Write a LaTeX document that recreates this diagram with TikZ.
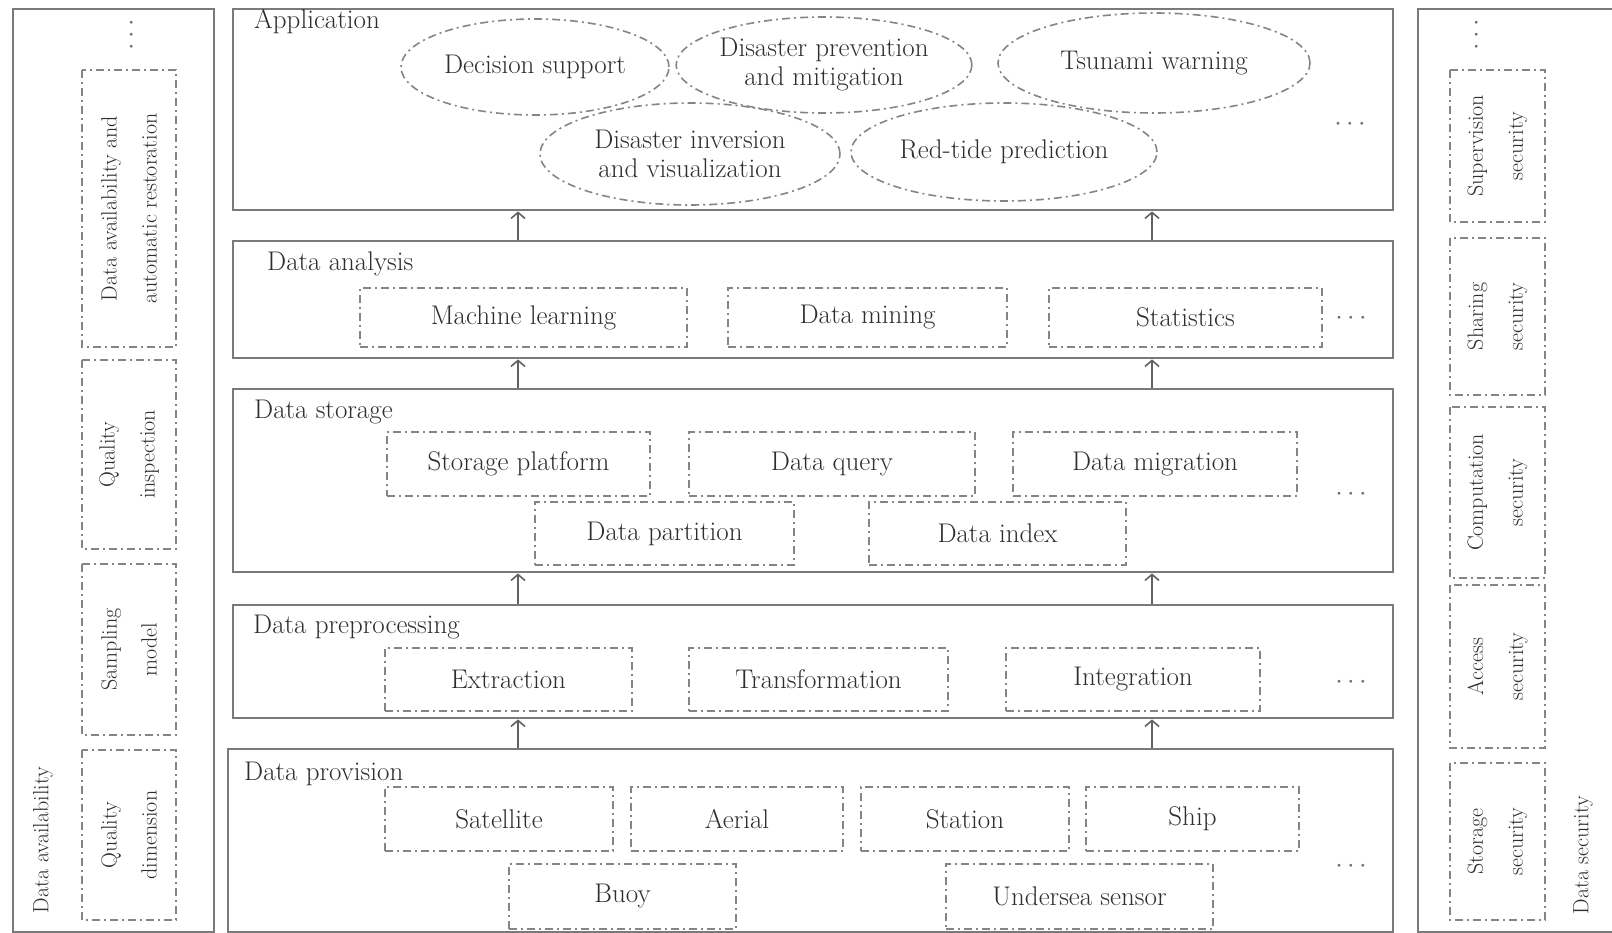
\RequirePackage{fix-cm}
\documentclass[tikz,border=0pt]{standalone}
\usepackage{fontspec}
\usetikzlibrary{shapes.geometric,arrows.meta}
\definecolor{txt}{HTML}{2E2E2E}
\definecolor{ln}{HTML}{7A7A7A}
\definecolor{dl}{HTML}{858585}
\newcommand\mainfs{\fontsize{27}{29}\selectfont}
\newcommand\rotfs{\fontsize{22}{40}\selectfont}
\begin{document}
\begin{tikzpicture}[x=1pt,y=-1pt,
  layer/.style={draw=ln, line width=2.4pt, rectangle, inner sep=0pt, anchor=north west},
  dd/.style={draw=dl, line width=1.6pt, dash pattern=on 8pt off 4pt on 2pt off 4pt},
  sub/.style={dd, rectangle, inner sep=0pt, font=\mainfs, text=txt},
  ell/.style={dd, ellipse, inner sep=0pt, font=\mainfs, text=txt, align=center},
  rsub/.style={dd, rectangle, inner sep=0pt, font=\rotfs, text=txt, align=center, rotate=90},
  lbl/.style={anchor=west, inner sep=0pt, font=\mainfs, text=txt},
  rlbl/.style={rotate=90, inner sep=0pt, font=\rotfs, text=txt},
  dots/.style={inner sep=0pt, font=\mainfs, text=txt!70},
  arr/.style={draw=ln!80!black, line width=1.8pt, -{Straight Barb[length=6pt,width=14pt,line width=1.6pt]}},
]
\useasboundingbox (0,0) rectangle (1612,933);
\fill[white] (0,0) rectangle (1612,933);

% side panels
\node[layer, minimum width=201pt, minimum height=923pt] (avail) at (12,8) {};
\node[layer, minimum width=230pt, minimum height=923pt] (secu) at (1417,8) {};

% main layers
\node[layer, minimum width=1160pt, minimum height=201pt] (app) at (232,8) {};
\node[layer, minimum width=1160pt, minimum height=117pt] (ana) at (232,240) {};
\node[layer, minimum width=1160pt, minimum height=183pt] (sto) at (232,388) {};
\node[layer, minimum width=1160pt, minimum height=113pt] (pre) at (232,604) {};
\node[layer, minimum width=1165pt, minimum height=183pt] (prov) at (227,748) {};

% layer labels
\node[lbl] (lapp) at (254,22) {Application};
\node[lbl] (lana) at (267,264) {Data analysis};
\node[lbl] (lsto) at (254,412) {Data storage};
\node[lbl] (lpre) at (253,627) {Data preprocessing};
\node[lbl] (lprov) at (244,774) {Data provision};

% application ellipses
\node[ell, minimum width=268pt, minimum height=96pt] (ds) at (535,67) {Decision support};
\node[ell, minimum width=264pt, minimum height=96pt] (dp) at (824,65) {Disaster prevention\\and mitigation};
\node[ell, minimum width=312pt, minimum height=100pt] (tw) at (1154,63) {Tsunami warning};
\node[ell, minimum width=300pt, minimum height=102pt] (di) at (690,154) {Disaster inversion\\and visualization};
\node[ell, minimum width=306pt, minimum height=98pt] (rt) at (1004,152) {Red-tide prediction};
\node[dots] (d1) at (1350,125) {$\cdots$};

% data analysis
\node[sub, minimum width=327pt, minimum height=59pt] (ml) at (523.5,317.5) {Machine learning};
\node[sub, minimum width=279pt, minimum height=59pt] (dm) at (867.5,317.5) {Data mining};
\node[sub, minimum width=273pt, minimum height=59pt] (st) at (1185.5,317.5) {Statistics};
\node[dots] (d2) at (1351,319) {$\cdots$};

% data storage
\node[sub, minimum width=263pt, minimum height=64pt] (sp) at (518.5,464) {Storage platform};
\node[sub, minimum width=286pt, minimum height=64pt] (dq) at (832,464) {Data query};
\node[sub, minimum width=284pt, minimum height=64pt] (dmi) at (1155,464) {Data migration};
\node[sub, minimum width=259pt, minimum height=63pt] (dpa) at (664.5,533.5) {Data partition};
\node[sub, minimum width=257pt, minimum height=63pt] (dix) at (997.5,533.5) {Data index};
\node[dots] (d3) at (1351,494) {$\cdots$};

% data preprocessing
\node[sub, minimum width=247pt, minimum height=63pt] (ex) at (508.5,679.5) {Extraction};
\node[sub, minimum width=259pt, minimum height=63pt] (tr) at (818.5,679.5) {Transformation};
\node[sub, minimum width=254pt, minimum height=63pt] (in) at (1133,679.5) {Integration};
\node[dots] (d4) at (1351,682) {$\cdots$};

% data provision
\node[sub, minimum width=228pt, minimum height=64pt] (sa) at (499,819) {Satellite};
\node[sub, minimum width=212pt, minimum height=64pt] (ae) at (737,819) {Aerial};
\node[sub, minimum width=208pt, minimum height=64pt] (sn) at (965,819) {Station};
\node[sub, minimum width=213pt, minimum height=64pt] (sh) at (1192.5,819) {Ship};
\node[sub, minimum width=227pt, minimum height=65pt] (bu) at (622.5,896.5) {Buoy};
\node[sub, minimum width=267pt, minimum height=65pt] (us) at (1079.5,896.5) {Undersea sensor};
\node[dots] (d5) at (1351,866) {$\cdots$};

% arrows
\coordinate (la) at (518,0);
\coordinate (ra) at (1152,0);
\draw[arr] (ana.north -| la) -- (app.south -| la);
\draw[arr] (ana.north -| ra) -- (app.south -| ra);
\draw[arr] (sto.north -| la) -- (ana.south -| la);
\draw[arr] (sto.north -| ra) -- (ana.south -| ra);
\draw[arr] (pre.north -| la) -- (sto.south -| la);
\draw[arr] (pre.north -| ra) -- (sto.south -| ra);
\draw[arr] (prov.north -| la) -- (pre.south -| la);
\draw[arr] (prov.north -| ra) -- (pre.south -| ra);

% left panel
\node[dots, rotate=90] (vd1) at (132,35) {$\cdots$};
\node[rsub, minimum width=277pt, minimum height=94pt] (q1) at (129,208.5) {Data availability and\\automatic restoration};
\node[rsub, minimum width=189pt, minimum height=94pt] (q2) at (129,454.5) {Quality\\inspection};
\node[rsub, minimum width=171pt, minimum height=94pt] (q3) at (129,649.5) {Sampling\\model};
\node[rsub, minimum width=170pt, minimum height=94pt] (q4) at (129,835) {Quality\\dimension};
\node[rlbl] (lavail) at (43,840) {Data availability};

% right panel
\node[dots, rotate=90] (vd2) at (1477,35) {$\cdots$};
\node[rsub, minimum width=152pt, minimum height=95pt] (s1) at (1497.5,146) {Supervision\\security};
\node[rsub, minimum width=157pt, minimum height=95pt] (s2) at (1497.5,316.5) {Sharing\\security};
\node[rsub, minimum width=171pt, minimum height=95pt] (s3) at (1497.5,492.5) {Computation\\security};
\node[rsub, minimum width=163pt, minimum height=95pt] (s4) at (1497.5,666.5) {Access\\security};
\node[rsub, minimum width=157pt, minimum height=95pt] (s5) at (1497.5,841.5) {Storage\\security};
\node[rlbl] (lsecu) at (1583,855) {Data security};
\end{tikzpicture}
\end{document}
